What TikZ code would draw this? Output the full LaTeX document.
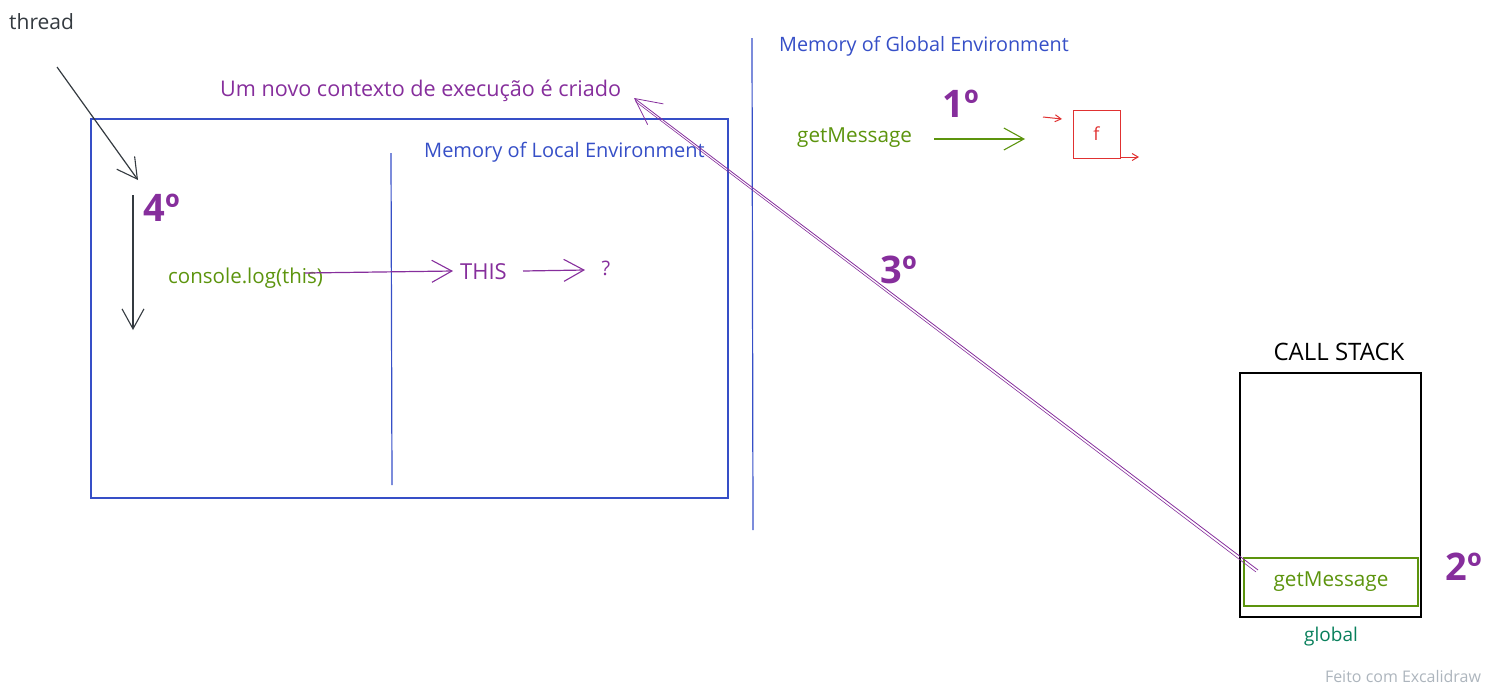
\documentclass[tikz,border=0pt]{standalone}
\usepackage{fontspec}
\setmainfont{Open Sans}
\usetikzlibrary{arrows.meta}
\definecolor{exblue}{RGB}{54,79,199}
\definecolor{expurple}{RGB}{134,46,156}
\definecolor{exgreen}{RGB}{92,148,13}
\definecolor{exteal}{RGB}{8,127,91}
\definecolor{exred}{RGB}{224,49,49}
\definecolor{exgray}{RGB}{52,58,64}
\definecolor{exlight}{RGB}{173,181,189}
\newcommand{\fs}[1]{\fontsize{#1}{#1}\selectfont}
\tikzset{
  lbl/.style={inner sep=0pt},
  big/.style={inner sep=0pt, font=\fs{38}\bfseries, text=expurple},
  arr/.style={line width=1.2pt, -{Straight Barb[length=20pt,width=22pt,line width=1.1pt]}},
  smallarr/.style={line width=1pt, -{Straight Barb[length=6pt,width=7pt]}},
  frame/.style={line width=1.2pt}
}
\begin{document}
\begin{tikzpicture}[x=1pt,y=-1pt]
\useasboundingbox (0,0) rectangle (1494,686);
% texts
\node[lbl, text=exgray, anchor=west, font=\fs{21}] (thread) at (9,22) {thread};
\node[lbl, text=expurple, anchor=west, font=\fs{21.6}] (novo) at (220,91) {Um novo contexto de execução é criado};
\node[lbl, text=exblue, anchor=west, font=\fs{20}] (memlocal) at (424,152) {Memory of Local Environment};
\node[lbl, text=exblue, anchor=west, font=\fs{19.8}] (memglobal) at (779,46) {Memory of Global Environment};
\node[lbl, text=exgreen, anchor=west, font=\fs{20.7}] (gm) at (797,138) {getMessage};
\node[big] (one) at (961,104) {1º};
\node[big] (four) at (162,208) {4º};
\node[big] (three) at (899,270) {3º};
\node[big] (two) at (1464,567) {2º};
\node[lbl, text=exgreen, anchor=west, font=\fs{20.5}] (cons) at (168,278) {console.log(this)};
\node[lbl, text=expurple, anchor=west, font=\fs{22}] (this) at (460,272) {THIS};
\node[lbl, text=expurple, font=\fs{20}] (q) at (606,268) {?};
\node[lbl, text=black, font=\fs{24}] (cs) at (1339,352) {CALL STACK};
\node[lbl, text=exteal, font=\fs{19}] (glob) at (1331,637) {global};
\node[lbl, text=exlight, font=\fs{16}] (feito) at (1403,676) {Feito com Excalidraw};
% local frame
\draw[exblue, frame] (91,119) rectangle (728,498);
\draw[exblue, frame] (391,153) -- (392,485);
\draw[exblue, frame] (752,38) -- (753,530);
% f box
\node[draw=exred, line width=1pt, minimum width=47pt, minimum height=48pt, text=exred, font=\fs{18}] (fbox) at (1096.5,134) {f};
\coordinate (ra1) at (1043,117);
\coordinate (ra2) at (1062,119);
\coordinate (rb1) at (1121,157);
\coordinate (rb2) at (1139,157);
\draw[exred, smallarr] (ra1) -- (ra2);
\draw[exred, smallarr] (rb1) -- (rb2);
% call stack
\node[draw=black, frame, minimum width=181pt, minimum height=244pt] (stack) at (1330.5,495) {};
\node[draw=exgreen, frame, minimum width=174pt, minimum height=48pt, text=exgreen, font=\fs{20.7}] (gmbox) at (1331,582) {getMessage};
% arrows
\coordinate (t1) at (57,67);
\coordinate (t2) at (138,180);
\draw[exgray, arr] (t1) -- (t2);
\coordinate (d1) at (133,195);
\coordinate (d2) at (133,330);
\draw[exgray, arr] (d1) -- (d2);
\coordinate (g1) at (934,139);
\coordinate (g2) at (1025,139);
\draw[exgreen, arr] (g1) -- (g2);
\coordinate (c1) at (305,273);
\coordinate (c2) at (453,271);
\draw[expurple, arr] (c1) -- (c2);
\coordinate (e1) at (523,271);
\coordinate (e2) at (585,270);
\draw[expurple, arr] (e1) -- (e2);
\coordinate (s1) at (1258,570);
\coordinate (s2) at (634,98);
\draw[expurple, line width=0.8pt, -{Straight Barb[length=26pt,width=26pt,line width=0.8pt]}] (s1) -- (s2);
\draw[expurple, line width=0.6pt] ([shift={(-2,2)}]s1) -- ([shift={(1.5,3.5)}]s2);
\end{tikzpicture}
\end{document}
